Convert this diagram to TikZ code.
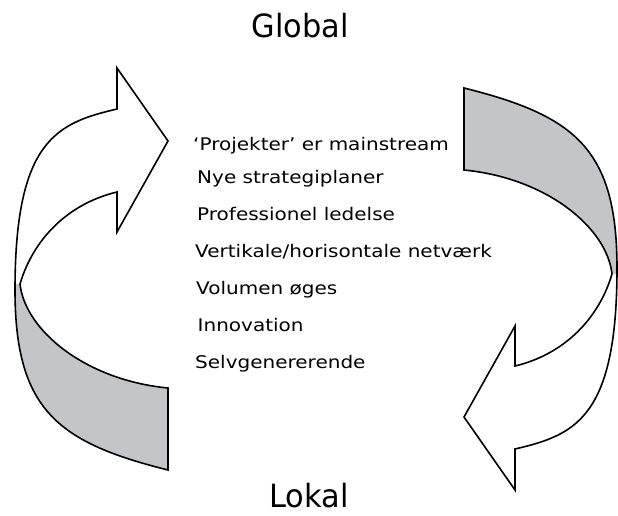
\documentclass[tikz,border=0pt]{standalone}
\usepackage{fontspec}
\setmainfont{DejaVu Sans}
\newfontfamily\itemfont{DejaVu Sans}[FakeStretch=1.15]
\newfontfamily\headfont{DejaVu Sans}[FakeStretch=0.95]
\definecolor{bandgray}{RGB}{196,197,199}
\tikzset{
  curvarrow/.pic={
    \fill[bandgray] (20,284) .. controls (25,330) and (85,380) .. (168,388)
      -- (168,470) .. controls (58,442.5) and (15,410) .. (15,290) -- (15,284) -- cycle;
    \draw[outline] (168,470) .. controls (58,442.5) and (15,410) .. (15,290)
      .. controls (15,140) and (57,123) .. (117,109) -- (117,68) -- (168,141)
      -- (117,232) -- (117,192) .. controls (67,204) and (33,240) .. (20,284)
      .. controls (25,330) and (85,380) .. (168,388) -- cycle;
  },
  outline/.style={draw=black, line width=1.6pt, line join=miter},
  item/.style={anchor=base west, font=\itemfont\fontsize{17.4}{20}\selectfont, inner sep=0pt},
  heading/.style={anchor=base, font=\headfont\fontsize{32}{38}\selectfont, inner sep=0pt}
}
\begin{document}
\begin{tikzpicture}[x=1pt,y=-1pt]
\useasboundingbox (0,0) rectangle (618,515);
\pic (left) at (0,0) {curvarrow};
\pic[rotate=180] (right) at (632,558) {curvarrow};
\node[heading] (global) at (300,37) {Global};
\node[heading] (lokal) at (309,507) {Lokal};
\node[item] (t1) at (193,150) {‘Projekter’ er mainstream};
\node[item] (t2) at (197,183) {Nye strategiplaner};
\node[item] (t3) at (197,220) {Professionel ledelse};
\node[item] (t4) at (195,257) {Vertikale/horisontale netværk};
\node[item] (t5) at (196,294) {Volumen øges};
\node[item] (t6) at (197.5,331) {Innovation};
\node[item] (t7) at (195,368) {Selvgenererende};
\end{tikzpicture}
\end{document}
